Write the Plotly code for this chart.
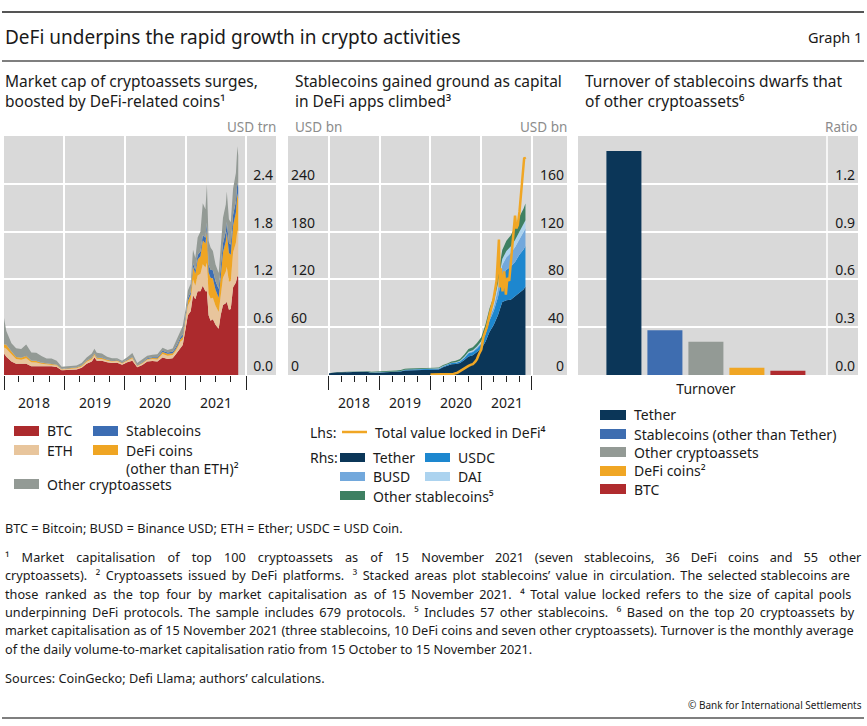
import re
import plotly.graph_objects as go

W, H = 867, 726
FONT = "Noto Sans"

# ---------------- Panel 1: market cap (USD trn) ----------------
p1_dates = [
    "2018-01-01", "2018-01-15", "2018-02-15", "2018-03-15", "2018-04-15", "2018-05-15", "2018-06-15",
    "2018-07-15", "2018-08-15", "2018-09-15", "2018-10-15", "2018-11-15", "2018-12-15",
    "2019-01-15", "2019-02-15", "2019-03-15", "2019-04-15", "2019-05-15", "2019-06-15", "2019-07-01",
    "2019-07-15", "2019-08-15", "2019-09-15", "2019-10-15", "2019-11-15", "2019-12-15",
    "2020-01-15", "2020-02-15", "2020-03-15", "2020-04-15", "2020-05-15", "2020-06-15", "2020-07-15",
    "2020-08-15", "2020-09-15", "2020-10-15", "2020-11-01", "2020-11-15", "2020-12-01", "2020-12-15",
    "2021-01-01", "2021-01-15", "2021-02-01", "2021-02-15", "2021-03-01", "2021-03-15", "2021-04-01",
    "2021-04-15", "2021-05-01", "2021-05-10", "2021-05-20", "2021-06-01", "2021-06-15", "2021-07-01",
    "2021-07-20", "2021-08-01", "2021-08-15", "2021-09-01", "2021-09-07", "2021-09-20", "2021-10-01",
    "2021-10-15", "2021-11-01", "2021-11-10", "2021-11-15",
]
btc = [
    0.27, 0.23, 0.17, 0.14, 0.14, 0.14, 0.11, 0.11, 0.11, 0.11, 0.11, 0.10, 0.06,
    0.064, 0.064, 0.069, 0.09, 0.14, 0.17, 0.22, 0.18, 0.18, 0.16, 0.15, 0.155, 0.13,
    0.16, 0.18, 0.098, 0.125, 0.17, 0.175, 0.17, 0.22, 0.20, 0.21, 0.255, 0.295, 0.35, 0.375,
    0.58, 0.75, 0.80, 1.00, 0.95, 1.05, 1.05, 1.12, 1.05, 1.05, 0.75, 0.68, 0.70, 0.63,
    0.58, 0.75, 0.88, 0.90, 0.92, 0.82, 0.83, 1.10, 1.16, 1.25, 1.22,
]
eth = [
    0.075, 0.10, 0.09, 0.06, 0.05, 0.07, 0.05, 0.047, 0.03, 0.022, 0.021, 0.018, 0.01,
    0.013, 0.014, 0.015, 0.017, 0.025, 0.028, 0.03, 0.024, 0.021, 0.02, 0.02, 0.02, 0.015,
    0.018, 0.029, 0.014, 0.019, 0.022, 0.026, 0.026, 0.045, 0.042, 0.042, 0.044, 0.052, 0.07, 0.068,
    0.09, 0.12, 0.14, 0.20, 0.17, 0.20, 0.22, 0.27, 0.30, 0.36, 0.27, 0.28, 0.27, 0.24,
    0.21, 0.28, 0.34, 0.40, 0.44, 0.35, 0.35, 0.44, 0.50, 0.57, 0.55,
]
defi = [
    0.04, 0.05, 0.035, 0.025, 0.025, 0.03, 0.02, 0.02, 0.015, 0.013, 0.013, 0.01, 0.006,
    0.007, 0.008, 0.01, 0.012, 0.014, 0.016, 0.018, 0.015, 0.013, 0.01, 0.01, 0.01, 0.009,
    0.01, 0.013, 0.007, 0.009, 0.01, 0.011, 0.015, 0.025, 0.025, 0.02, 0.022, 0.024, 0.03, 0.035,
    0.04, 0.06, 0.07, 0.16, 0.15, 0.20, 0.22, 0.30, 0.30, 0.42, 0.27, 0.26, 0.24, 0.20,
    0.18, 0.24, 0.32, 0.38, 0.44, 0.36, 0.33, 0.34, 0.38, 0.46, 0.44,
]
stable = [
    0.0015, 0.002, 0.0022, 0.0023, 0.0023, 0.0025, 0.0026, 0.0027, 0.0028, 0.0028, 0.0027, 0.0021, 0.0021,
    0.0022, 0.0022, 0.0023, 0.0025, 0.0028, 0.0033, 0.004, 0.0045, 0.0046, 0.0047, 0.0048, 0.0049, 0.005,
    0.0053, 0.0055, 0.0062, 0.008, 0.0095, 0.011, 0.012, 0.0135, 0.016, 0.0195, 0.021, 0.023, 0.025, 0.027,
    0.029, 0.032, 0.036, 0.042, 0.048, 0.055, 0.060, 0.065, 0.072, 0.080, 0.095, 0.100, 0.105, 0.108,
    0.110, 0.112, 0.115, 0.120, 0.122, 0.125, 0.128, 0.132, 0.137, 0.140, 0.142,
]
other = [
    0.33, 0.17, 0.10, 0.11, 0.11, 0.14, 0.10, 0.10, 0.08, 0.06, 0.06, 0.05, 0.025,
    0.023, 0.021, 0.023, 0.028, 0.037, 0.052, 0.058, 0.057, 0.052, 0.035, 0.026, 0.02, 0.021,
    0.03, 0.05, 0.025, 0.03, 0.03, 0.03, 0.037, 0.04, 0.03, 0.04, 0.065, 0.075, 0.085, 0.11,
    0.082, 0.10, 0.10, 0.17, 0.15, 0.22, 0.25, 0.40, 0.36, 0.48, 0.30, 0.28, 0.24, 0.21,
    0.20, 0.24, 0.32, 0.34, 0.38, 0.30, 0.28, 0.33, 0.36, 0.45, 0.40,
]

# ---------------- Panel 2: stablecoins (USD bn, rhs) and TVL (USD bn, lhs) ----------------
p2_dates = [
    "2018-01-01", "2018-02-01", "2018-03-01", "2018-04-01", "2018-05-01", "2018-06-01",
    "2018-07-01", "2018-08-01", "2018-09-01", "2018-10-01", "2018-11-01", "2018-12-01",
    "2019-01-01", "2019-02-01", "2019-03-01", "2019-04-01", "2019-05-01", "2019-06-01",
    "2019-07-01", "2019-08-01", "2019-09-01", "2019-10-01", "2019-11-01", "2019-12-01",
    "2020-01-01", "2020-02-01", "2020-03-01", "2020-04-01", "2020-05-01", "2020-06-01",
    "2020-07-01", "2020-08-01", "2020-09-01", "2020-10-01", "2020-11-01", "2020-12-01",
    "2021-01-01", "2021-02-01", "2021-03-01", "2021-04-01", "2021-05-01", "2021-06-01",
    "2021-07-01", "2021-08-01", "2021-09-01", "2021-10-01", "2021-11-01", "2021-11-15",
]
tether = [
    1.4, 2.2, 2.3, 2.3, 2.5, 2.6, 2.7, 2.8, 2.8, 2.7, 1.9, 1.9,
    2.0, 2.0, 2.1, 2.3, 2.6, 3.0, 3.8, 4.0, 4.1, 4.1, 4.1, 4.1,
    4.1, 4.6, 4.7, 6.5, 7.6, 9.0, 9.2, 10.0, 12.5, 15.5, 16.5, 19.0,
    22.0, 28.0, 36.0, 42.0, 50.0, 61.0, 62.5, 63.0, 66.0, 68.5, 71.5, 74.0,
]
usdc = [
    0, 0, 0, 0, 0, 0, 0, 0, 0, 0.1, 0.2, 0.25,
    0.25, 0.25, 0.25, 0.24, 0.3, 0.35, 0.45, 0.5, 0.45, 0.45, 0.45, 0.5,
    0.5, 0.5, 0.6, 0.7, 0.8, 1.0, 1.1, 1.3, 1.8, 2.6, 2.8, 3.0,
    4.0, 6.5, 9.5, 11.5, 15.0, 22.0, 25.5, 27.5, 28.5, 32.0, 33.5, 34.0,
]
busd = [
    0, 0, 0, 0, 0, 0, 0, 0, 0, 0, 0, 0,
    0, 0, 0, 0, 0, 0, 0, 0, 0.02, 0.05, 0.1, 0.15,
    0.2, 0.2, 0.2, 0.2, 0.18, 0.16, 0.17, 0.2, 0.4, 0.5, 0.55, 0.7,
    1.0, 1.9, 2.5, 3.3, 7.0, 9.0, 10.5, 11.5, 12.5, 13.0, 14.0, 14.5,
]
dai = [
    0.02, 0.03, 0.04, 0.05, 0.05, 0.05, 0.06, 0.06, 0.07, 0.07, 0.07, 0.07,
    0.08, 0.08, 0.08, 0.08, 0.09, 0.09, 0.09, 0.09, 0.09, 0.09, 0.09, 0.09,
    0.1, 0.12, 0.1, 0.1, 0.12, 0.13, 0.15, 0.35, 0.5, 0.8, 0.95, 1.1,
    1.3, 2.4, 3.1, 4.0, 4.6, 5.0, 5.3, 5.6, 6.0, 6.3, 6.6, 7.0,
]
other_stable = [
    0.05, 0.05, 0.1, 0.15, 0.15, 0.2, 0.25, 0.3, 0.4, 0.5, 0.6, 0.7,
    0.7, 0.7, 0.7, 0.7, 0.7, 0.8, 0.8, 0.8, 0.8, 0.7, 0.6, 0.6,
    0.6, 0.6, 0.7, 0.9, 1.0, 1.1, 1.3, 1.6, 2.0, 2.3, 2.5, 3.0,
    3.3, 3.9, 4.5, 5.5, 6.8, 7.5, 8.5, 9.2, 11.0, 12.5, 13.5, 14.0,
]
tvl_dates = [
    "2020-01-01", "2020-02-15", "2020-03-15", "2020-04-15", "2020-05-15", "2020-06-15", "2020-07-15",
    "2020-08-15", "2020-09-01", "2020-09-15", "2020-10-01", "2020-10-20", "2020-11-01", "2020-11-20",
    "2020-12-01", "2020-12-15", "2021-01-01", "2021-01-17", "2021-02-10", "2021-03-04", "2021-03-28",
    "2021-04-21", "2021-05-08", "2021-05-14", "2021-05-22", "2021-06-03", "2021-06-15", "2021-06-27",
    "2021-07-08", "2021-07-21", "2021-08-08", "2021-08-19", "2021-09-01", "2021-09-10", "2021-09-21",
    "2021-10-03", "2021-10-15", "2021-10-26", "2021-11-06", "2021-11-15",
]
tvl = [
    0.7, 1.0, 0.6, 0.8, 1.0, 1.4, 3.0,
    6.5, 9.0, 10.5, 11.5, 13.0, 13.5, 17.0,
    20.0, 26.0, 32.0, 48.0, 60.0, 77.0, 93.0,
    118.0, 170.0, 110.0, 134.0, 105.0, 130.0, 101.0,
    122.0, 118.0, 155.0, 172.0, 200.0, 184.0, 188.0,
    205.0, 230.0, 259.0, 273.0, 271.0,
]

# ---------------- Panel 3: turnover (ratio) ----------------
turn_cat = ["Turnover"]
turn_names = ["Tether", "Stablecoins (other than Tether)", "Other cryptoassets", "DeFi coins²", "BTC"]
turn_vals = [1.406, 0.281, 0.208, 0.046, 0.027]

# tick positions / labels
years = ["2018", "2019", "2020", "2021"]
year_starts = ["2018-01-01", "2019-01-01", "2020-01-01", "2021-01-01", "2022-01-01"]
year_mids = ["2018-07-02", "2019-07-02", "2020-07-02", "2021-07-02"]
quarters = ["2018-04-01", "2018-07-01", "2018-10-01", "2019-04-01", "2019-07-01", "2019-10-01",
            "2020-04-01", "2020-07-01", "2020-10-01", "2021-04-01", "2021-07-01", "2021-10-01"]
p1_ticks = [0, 0.6, 1.2, 1.8, 2.4]
p2_lticks = [0, 60, 120, 180, 240]
p2_rticks = [0, 40, 80, 120, 160]
p3_ticks = [0, 0.3, 0.6, 0.9, 1.2]

# colours
C_BTC, C_ETH, C_DEFI, C_STAB, C_OTH = "#ac2a2d", "#e8c59c", "#efa523", "#3c6db3", "#939a95"
C_TETH, C_USDC, C_BUSD, C_DAI, C_OSTAB = "#0b3658", "#1d87cf", "#72a8dc", "#acd3ef", "#3e8062"
C_TVL = "#f0a624"
BG = "#d9d9d9"
TXT = "#1a1a1a"
GREY = "#8c8c8c"

fig = go.Figure()

for name, vals, col in [("BTC", btc, C_BTC), ("ETH", eth, C_ETH), ("DeFi coins", defi, C_DEFI),
                        ("Stablecoins", stable, C_STAB), ("Other cryptoassets", other, C_OTH)]:
    fig.add_trace(go.Scatter(x=p1_dates, y=vals, name=name, stackgroup="mc", mode="lines",
                             line=dict(width=0, color=col), fillcolor=col,
                             xaxis="x", yaxis="y", showlegend=False))

for name, vals, col in [("Tether", tether, C_TETH), ("USDC", usdc, C_USDC), ("BUSD", busd, C_BUSD),
                        ("DAI", dai, C_DAI), ("Other stablecoins", other_stable, C_OSTAB)]:
    fig.add_trace(go.Scatter(x=p2_dates, y=vals, name=name, stackgroup="sc", mode="lines",
                             line=dict(width=0, color=col), fillcolor=col,
                             xaxis="x2", yaxis="y2", showlegend=False))

fig.add_trace(go.Scatter(x=tvl_dates, y=tvl, name="Total value locked in DeFi", mode="lines",
                         line=dict(width=2.5, color=C_TVL), xaxis="x2", yaxis="y3", showlegend=False))

turn_cols = [C_TETH, "#3e6db0", C_OTH, C_TVL, "#b02b2e"]
for name, v, col in zip(turn_names, turn_vals, turn_cols):
    fig.add_trace(go.Bar(x=turn_cat, y=[v], name=name, marker=dict(color=col, line=dict(width=0)),
                         xaxis="x3", yaxis="y4", showlegend=False))

def px_x(x):
    return x / W

def px_y(y):
    return 1 - y / H

Y_DOM = [px_y(375), px_y(136)]

tick_style = dict(ticks="outside", tickcolor="#222", tickwidth=1.3, ticklen=14,
                  showgrid=True, gridcolor="white", gridwidth=1.5, showline=False, zeroline=False,
                  showticklabels=False, type="date", tickmode="array", tickvals=year_starts,
                  tickfont=dict(family=FONT, size=14, color=TXT),
                  minor=dict(ticks="outside", tickmode="array", tickvals=quarters, ticklen=6,
                             tickcolor="#222", tickwidth=1.3, showgrid=False))
y_style = dict(showgrid=True, gridcolor="white", gridwidth=1.5, zeroline=False, showline=False,
               ticks="", ticklabelposition="inside", ticklabelshift=-9, ticklabelstandoff=0,
               tickfont=dict(family=FONT, size=14, color=TXT), tickmode="array")

P1 = ["2018-01-01", "2022-07-01"]
P2 = ["2017-03-12", "2022-09-10"]

fig.update_layout(
    width=W, height=H, margin=dict(l=0, r=0, t=0, b=0),
    paper_bgcolor="white", plot_bgcolor=BG,
    barmode="group", bargap=0, bargroupgap=0.146,
    font=dict(family=FONT, color=TXT, size=14),
    xaxis=dict(domain=[px_x(4), px_x(276)], range=P1, anchor="y", **tick_style),
    yaxis=dict(domain=Y_DOM, range=[0, 3.0], side="right", anchor="x",
               tickvals=p1_ticks, ticktext=["0.0", "0.6", "1.2", "1.8", "2.4"], **y_style),
    xaxis2=dict(domain=[px_x(288), px_x(567)], range=P2, anchor="y2", **tick_style),
    yaxis2=dict(domain=Y_DOM, range=[0, 200], side="right", anchor="x2",
                tickvals=p2_rticks, ticktext=[str(v) for v in p2_rticks], **y_style),
    yaxis3=dict(overlaying="y2", range=[0, 300], side="left", anchor="x2",
                tickvals=p2_lticks, ticktext=[str(v) for v in p2_lticks],
                **{**y_style, "showgrid": False}),
    xaxis3=dict(domain=[px_x(578), px_x(858)], anchor="y4", type="category", range=[-0.624, 0.742],
                ticks="", showgrid=False, zeroline=False, showline=False,
                tickfont=dict(family=FONT, size=14, color=TXT), ticklabelstandoff=4),
    yaxis4=dict(domain=Y_DOM, range=[0, 1.5], side="right", anchor="x3",
                tickvals=p3_ticks, ticktext=["0.0", "0.3", "0.6", "0.9", "1.2"], **y_style),
)

shapes = []
ann = []
PAD = 2  # annotation box padding compensation (px)

def A(x, y, text, size=14, color=TXT, xanchor="left", family=FONT, xref="paper"):
    if xref == "paper":
        xx = x - PAD if xanchor == "left" else (x + PAD if xanchor == "right" else x)
        xv = px_x(xx)
    else:
        xv = x
    ann.append(dict(x=xv, y=px_y(y), xref=xref, yref="paper",
                    text=text, showarrow=False, xanchor=xanchor, yanchor="middle", align="left",
                    font=dict(size=size, color=color, family=family)))

def R(x0, y0, x1, y1, col):
    shapes.append(dict(type="rect", xref="paper", yref="paper", x0=px_x(x0), x1=px_x(x1),
                       y0=px_y(y1), y1=px_y(y0), fillcolor=col, line=dict(width=0)))

def L(x0, y0, x1, y1, col, w):
    shapes.append(dict(type="line", xref="paper", yref="paper", x0=px_x(x0), x1=px_x(x1),
                       y0=px_y(y0), y1=px_y(y1), line=dict(color=col, width=w)))

def spread(line, extra, n_more=0, more=""):
    # widen word gaps to imitate the justified footnote block
    count = [0]
    def rep(m):
        count[0] += 1
        return m.group(0) + extra + (more if count[0] <= n_more else "")
    return re.sub(r" +", rep, line)

# year labels on the two time axes (placed through the axes' own date scales)
for xr in ("x", "x2"):
    for d, t in zip(year_mids, years):
        A(d, 402, t, 14, TXT, "center", xref=xr)

# frame lines
L(2, 12, 864, 12, "#555555", 2)
L(2, 61, 864, 61, "#555555", 1.6)
L(2, 718, 864, 718, "#555555", 1.6)

# panel 3 separator line (white)
shapes.append(dict(type="line", xref="paper", yref="y4 domain", x0=px_x(827), x1=px_x(827), y0=0, y1=1,
                   line=dict(color="white", width=1.5)))

# titles
A(5, 37, "DeFi underpins the rapid growth in crypto activities", 19)
A(862, 37, "Graph 1", 14.5, xanchor="right")
A(5, 91, "Market cap of cryptoassets surges,<br>boosted by DeFi-related coins¹", 15.5)
A(295, 91, "Stablecoins gained ground as capital<br>in DeFi apps climbed³", 15.5)
A(585, 91, "Turnover of stablecoins dwarfs that<br>of other cryptoassets⁶", 15.5)

# units
A(276, 127, "USD trn", 13.5, GREY, "right")
A(295, 127, "USD bn", 13.5, GREY, "left")
A(567, 127, "USD bn", 13.5, GREY, "right")
A(858, 127, "Ratio", 13.5, GREY, "right")

# legend panel 1
R(14, 426, 39, 436, C_BTC); A(47, 431, "BTC")
R(93, 426, 118, 436, C_STAB); A(126, 431, "Stablecoins")
R(14, 445, 39, 455, C_ETH); A(47, 450, "ETH")
R(93, 445, 118, 455, C_DEFI); A(126, 459, "DeFi coins<br>(other than ETH)²")
R(14, 479, 39, 489, C_OTH); A(47, 484, "Other cryptoassets")

# legend panel 2
A(310, 432, "Lhs:")
L(342, 432, 367, 432, C_TVL, 2.5)
A(375, 432, "Total value locked in DeFi⁴")
A(310, 457, "Rhs:")
R(340, 453, 365, 462, C_TETH); A(373, 457, "Tether")
R(425, 453, 450, 462, C_USDC); A(458, 457, "USDC")
R(340, 472, 365, 481, C_BUSD); A(373, 476, "BUSD")
R(425, 472, 450, 481, C_DAI); A(458, 476, "DAI")
R(340, 491, 365, 500, C_OSTAB); A(373, 496, "Other stablecoins⁵")

# legend panel 3
for (name, col), yy in zip(zip(turn_names, turn_cols), [415, 434, 452, 471, 489]):
    R(600, yy - 5, 626, yy + 5, col)
    A(634, yy, name)

# footnotes
FS = 12.7
A(5, 528, "BTC = Bitcoin; BUSD = Binance USD; ETH = Ether; USDC = USD Coin.", FS)
foot_lines = [
    "¹ Market capitalisation of top 100 cryptoassets as of 15 November 2021 (seven stablecoins, 36 DeFi coins and 55 other",
    "cryptoassets).  ² Cryptoassets issued by DeFi platforms.  ³ Stacked areas plot stablecoins’ value in circulation. The selected stablecoins are",
    "those ranked as the top four by market capitalisation as of 15 November 2021.  ⁴ Total value locked refers to the size of capital pools",
    "underpinning DeFi protocols. The sample includes 679 protocols.  ⁵ Includes 57 other stablecoins.  ⁶ Based on the top 20 cryptoassets by",
    "market capitalisation as of 15 November 2021 (three stablecoins, 10 DeFi coins and seven other cryptoassets). Turnover is the monthly average",
    "of the daily volume-to-market capitalisation ratio from 15 October to 15 November 2021.",
]
gap_rules = [("\u2002\u200a", 10, "\u200a"), ("", 16, "\u2009"), ("\u2009", 10, "\u200a"),
             ("\u2009", 0, ""), ("", 0, ""), ("", 0, "")]
for i, (t, (ex, n, mo)) in enumerate(zip(foot_lines, gap_rules)):
    A(5, 557 + i * 18.3, spread(t, ex, n, mo), FS)
A(5, 678, "Sources: CoinGecko; Defi Llama; authors’ calculations.", FS)
A(862, 705, "© Bank for International Settlements", 10, xanchor="right")

fig.update_layout(shapes=shapes, annotations=ann)
fig.write_html("out.html", config={"displayModeBar": False},
               post_script="document.body.style.margin='0';document.body.style.overflow='hidden';")
